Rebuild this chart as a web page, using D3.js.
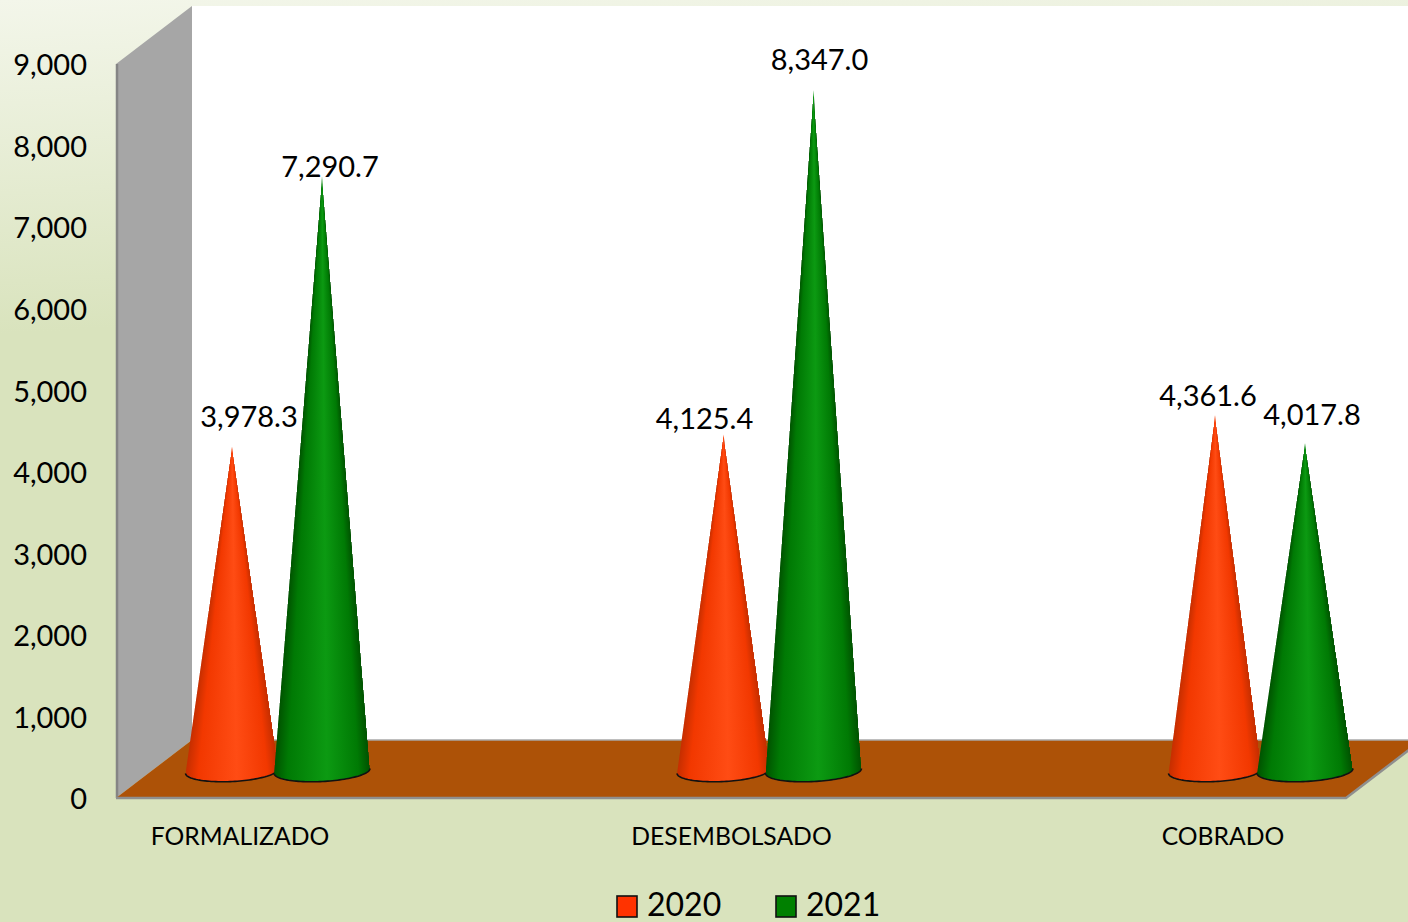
<!DOCTYPE html>
<html>
<head>
<meta charset="utf-8">
<script src="https://d3js.org/d3.v7.min.js"></script>
<style>
  html, body { margin: 0; padding: 0; background: #d9e3bd; overflow: hidden; }
  svg { display: block; font-family: Lato, "Open Sans", sans-serif; }
</style>
</head>
<body>
<svg width="1408" height="922"></svg>
<script>
const categories = ["FORMALIZADO", "DESEMBOLSADO", "COBRADO"];
const seriesNames = ["2020", "2021"];
const values2020 = [3978.3, 4125.4, 4361.6];
const values2021 = [7290.7, 8347.0, 4017.8];
const yTicks = [0, 1000, 2000, 3000, 4000, 5000, 6000, 7000, 8000, 9000];

const svg = d3.select("svg");
const width = 1408, height = 922;
const defs = svg.append("defs");

// chart box, front edge of the 3d frame
const frontLeft = 116, frontRight = 1346, frontBottom = 798, frontTop = 64;
const depthX = 76, depthY = 58;

const y = d3.scaleLinear().domain([0, 9000]).range([frontBottom, frontTop]);
const x = d3.scalePoint().domain(categories).range([240, 1223]);
const xSeries = d3.scaleBand().domain(seriesNames).range([-91, 89]);

const colors = {
  "2020": { edge: "#c42e00", side: "#f23800", mid: "#ff4c14", flat: "#ff3300" },
  "2021": { edge: "#005200", side: "#007a04", mid: "#0c9a12", flat: "#008000" }
};

// background
const bg = defs.append("linearGradient").attr("id", "bg")
  .attr("x1", 0).attr("y1", 0).attr("x2", 0.03).attr("y2", 0.36);
bg.append("stop").attr("offset", 0).attr("stop-color", "#f3f6ea");
bg.append("stop").attr("offset", 1).attr("stop-color", "#d9e3bd");
svg.append("rect").attr("width", width).attr("height", height).attr("fill", "url(#bg)");

// cone shading, applied to each pixel row so the dark edge follows the outline
seriesNames.forEach(s => {
  const c = colors[s];
  const g = defs.append("linearGradient").attr("id", "cone" + s);
  [[0, c.edge], [0.14, c.side], [0.55, c.mid], [0.88, c.side], [1, c.edge]].forEach(st => {
    g.append("stop").attr("offset", st[0]).attr("stop-color", st[1]);
  });
});

// back wall
svg.append("rect")
  .attr("x", frontLeft + depthX).attr("y", frontTop - depthY)
  .attr("width", width - frontLeft - depthX).attr("height", frontBottom - frontTop)
  .attr("fill", "#fff");

// side wall
svg.append("path")
  .attr("d", `M${frontLeft},${frontTop}L${frontLeft + depthX},${frontTop - depthY}` +
    `V${frontBottom - depthY}L${frontLeft},${frontBottom}Z`)
  .attr("fill", "#a6a6a6");
svg.append("line")
  .attr("x1", frontLeft + 1).attr("x2", frontLeft + 1)
  .attr("y1", frontTop).attr("y2", frontBottom)
  .attr("stroke", "#858585").attr("stroke-width", 2.5);

// floor
const floorPath = `M${frontLeft},${frontBottom}L${frontLeft + depthX},${frontBottom - depthY}` +
  `H${frontRight + depthX}L${frontRight},${frontBottom}Z`;
svg.append("path").attr("d", floorPath).attr("fill", "#ad5207");
svg.append("path")
  .attr("d", `M${frontLeft},${frontBottom}H${frontRight}L${frontRight + depthX},${frontBottom - depthY}`)
  .attr("fill", "none").attr("stroke", "#8f8f8f").attr("stroke-width", 2.5);
svg.append("line")
  .attr("x1", frontLeft + depthX).attr("x2", width)
  .attr("y1", frontBottom - depthY).attr("y2", frontBottom - depthY)
  .attr("stroke", "#a9a9a9").attr("stroke-width", 1.5);

// y axis
const axis = svg.append("g")
  .attr("transform", "translate(95,1.5)")
  .call(d3.axisLeft(y).tickValues(yTicks).tickFormat(d3.format(",")).tickSize(0));
axis.select(".domain").remove();
axis.selectAll("text")
  .attr("font-size", 29).attr("font-family", "Lato").attr("fill", "#000").attr("x", -8);

// category labels
svg.selectAll(".cat")
  .data(categories)
  .enter().append("text")
  .attr("class", "cat")
  .attr("x", d => x(d))
  .attr("y", 845)
  .attr("text-anchor", "middle")
  .attr("font-size", 24.7)
  .text(d => d);

// cones
const rows = [];
categories.forEach((c, i) => {
  rows.push({ cat: c, series: "2020", value: values2020[i] });
  rows.push({ cat: c, series: "2021", value: values2021[i] });
});

const baseShift = -27;  // cones stand in the middle of the floor
const coneRx = { "2020": 46.5, "2021": 48 };
const coneRy = 10.5, tilt = -3 * Math.PI / 180;

function coneX(d) {
  return x(d.cat) + depthX / 2 + xSeries(d.series) + xSeries.bandwidth() / 2;
}

// point on the rim of the base, t runs 0..PI along the front of the ellipse
function rim(d, t) {
  const ex = coneRx[d.series] * Math.cos(t), ey = coneRy * Math.sin(t);
  return [
    coneX(d) + ex * Math.cos(tilt) - ey * Math.sin(tilt),
    y(0) + baseShift + ex * Math.sin(tilt) + ey * Math.cos(tilt)
  ];
}
const rimLine = d => d3.line()(d3.range(0, 61).map(i => rim(d, Math.PI * i / 60)));

rows.forEach((d, i) => {
  defs.append("clipPath").attr("id", "clip" + i).append("path")
    .attr("d", `M${coneX(d)},${y(d.value) + baseShift}L` + rimLine(d).slice(1) + "Z");
});

const cone = svg.selectAll(".cone")
  .data(rows)
  .enter().append("g")
  .attr("class", "cone");

const shaded = cone.append("g").attr("clip-path", (d, i) => `url(#clip${i})`);

shaded.each(function (d) {
  const tip = y(d.value) + baseShift;
  const base = y(0) + baseShift;
  const rowYs = d3.range(Math.floor(tip), Math.ceil(base + coneRy) + 1);
  d3.select(this).selectAll("rect")
    .data(rowYs)
    .enter().append("rect")
    .attr("x", r => coneX(d) - halfWidth(d, r, tip, base))
    .attr("y", r => r)
    .attr("width", r => 2 * halfWidth(d, r, tip, base))
    .attr("height", 1)
    .attr("shape-rendering", "crispEdges")
    .attr("fill", `url(#cone${d.series})`);
});

function halfWidth(d, r, tip, base) {
  return Math.max(1, coneRx[d.series] * Math.min(1, (r + 0.5 - tip) / (base - tip)));
}

cone.append("path")
  .attr("d", rimLine)
  .attr("fill", "none")
  .attr("stroke", "#111")
  .attr("stroke-width", 1.6);

// data labels, moved by hand in the original so each has its own nudge
const labelNudge = [[17, -20], [8, 1], [-19, -6], [6, -20], [-7, -9], [7, -18]];
svg.selectAll(".val")
  .data(rows)
  .enter().append("text")
  .attr("class", "val")
  .attr("x", (d, i) => coneX(d) + labelNudge[i][0])
  .attr("y", (d, i) => y(d.value) + baseShift + labelNudge[i][1])
  .attr("text-anchor", "middle")
  .attr("font-size", 29)
  .text(d => d3.format(",.1f")(d.value));

// legend
const legend = svg.selectAll(".leg")
  .data(seriesNames)
  .enter().append("g")
  .attr("class", "leg")
  .attr("transform", (d, i) => `translate(${617 + i * 159},896)`);
legend.append("rect")
  .attr("width", 20).attr("height", 21)
  .attr("fill", d => colors[d].flat)
  .attr("stroke", "#111").attr("stroke-width", 1.6);
legend.append("text")
  .attr("x", 30).attr("y", 19.5)
  .attr("font-size", 32)
  .text(d => d);
</script>
</body>
</html>
